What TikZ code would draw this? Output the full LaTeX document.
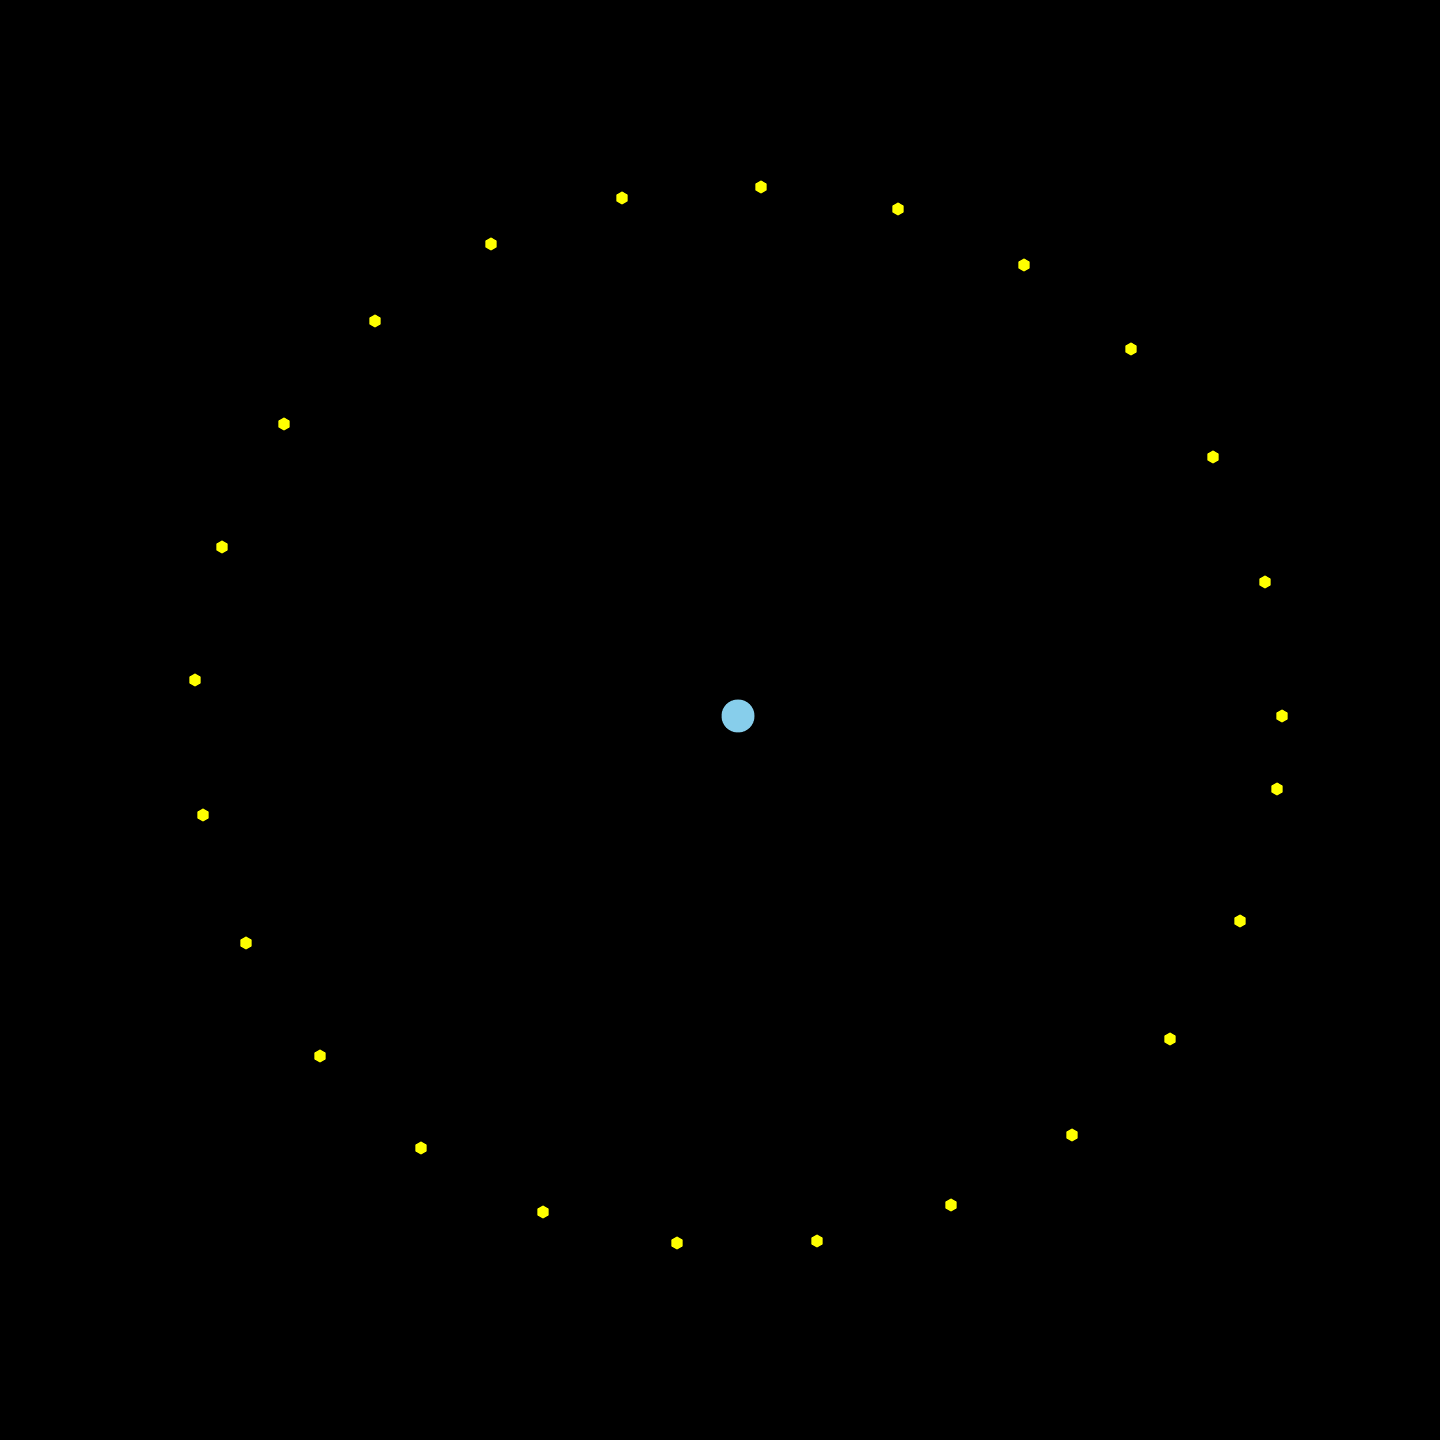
\documentclass[tikz,border=0pt]{standalone}
\usepackage{tikz}
\usepackage{xcolor}
\usetikzlibrary{shapes.geometric}
\definecolor{skyblue}{RGB}{135, 206, 235}
\definecolor{dotyellow}{RGB}{255, 255, 0}
\tikzstyle{star} = [regular polygon, regular polygon sides=6, shape border rotate=30, minimum size=0.13cm, inner sep=0pt, fill=dotyellow, draw=none]
\tikzstyle{core} = [circle, minimum size=0.33cm, inner sep=0pt, fill=skyblue, draw=none]
\begin{document}
\begin{tikzpicture}

% Background
\fill[black] (0,0) rectangle (14.4,14.4);
\useasboundingbox (0,0) rectangle (14.4,14.4);

% Centre
\node (center) [core] at (7.38,7.24) {};

% Ring of points
\foreach \name/\px/\py in {p1/761/187, p2/898/209, p3/1024/265, p4/1131/349, p5/1213/457,
  p6/1265/582, p7/1282/716, p8/1277/789, p9/1240/921, p10/1170/1039,
  p11/1072/1135, p12/951/1205, p13/817/1241, p14/677/1243, p15/543/1212,
  p16/421/1148, p17/320/1056, p18/246/943, p19/203/815, p20/195/680,
  p21/222/547, p22/284/424, p23/375/321, p24/491/244, p25/622/198}
  \node (\name) [star] at ({\px/100},{(1440-\py)/100}) {};

\end{tikzpicture}
\end{document}
